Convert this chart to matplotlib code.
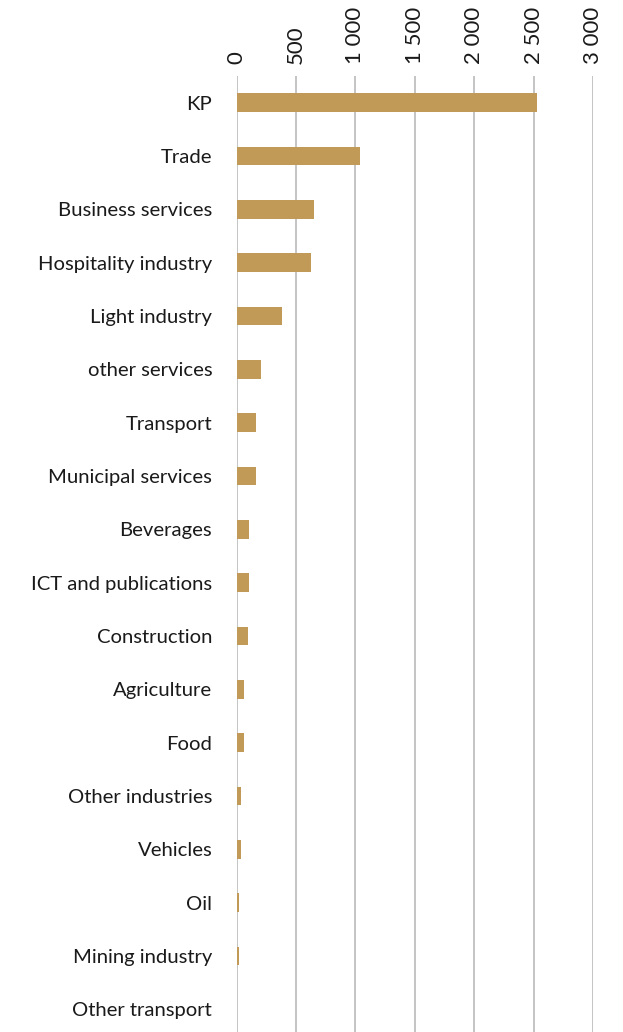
import matplotlib
matplotlib.use("Agg")
import matplotlib.pyplot as plt
from matplotlib.ticker import FuncFormatter

categories = ["KP", "Trade", "Business services", "Hospitality industry", "Light industry",
              "other services", "Transport", "Municipal services", "Beverages",
              "ICT and publications", "Construction", "Agriculture", "Food",
              "Other industries", "Vehicles", "Oil", "Mining industry", "Other transport"]
values = [2530, 1043, 648, 631, 387, 210, 168, 160, 109, 101, 93, 67, 59, 42, 34, 25, 25, 0]
xticks = [0, 500, 1000, 1500, 2000, 2500, 3000]

plt.rcParams['font.family'] = ['Lato', 'DejaVu Sans']

fig = plt.figure(figsize=(6.23, 10.32), dpi=100)
ax = fig.add_axes([236.5/623, 1 - 1036/1032, (593 - 236.5)/623, 960/1032])

y = list(range(len(categories)))
ax.barh(y, values, height=0.35, color="#C09A56", zorder=3)
ax.set_ylim(len(categories) - 0.5, -0.5)
ax.set_xlim(0, 3000)
ax.set_yticks(y)
ax.set_yticklabels(categories, fontsize=14.6, color="#1a1a1a")
ax.set_xticks(xticks)
ax.xaxis.set_major_formatter(FuncFormatter(lambda v, p: f"{int(v):,}".replace(",", " ")))
ax.xaxis.tick_top()
ax.tick_params(axis='x', labelrotation=90, labelsize=16, length=0, pad=8.5, colors="#1a1a1a")
ax.tick_params(axis='y', length=0, pad=17.5)
for lbl in ax.get_xticklabels():
    lbl.set_verticalalignment('bottom')
ax.grid(axis='x', color="#C4C4C4", linewidth=1.4, zorder=0)
ax.grid(axis='y', visible=False)
for s in ax.spines.values():
    s.set_visible(False)

fig.savefig("out.png", dpi=100)
